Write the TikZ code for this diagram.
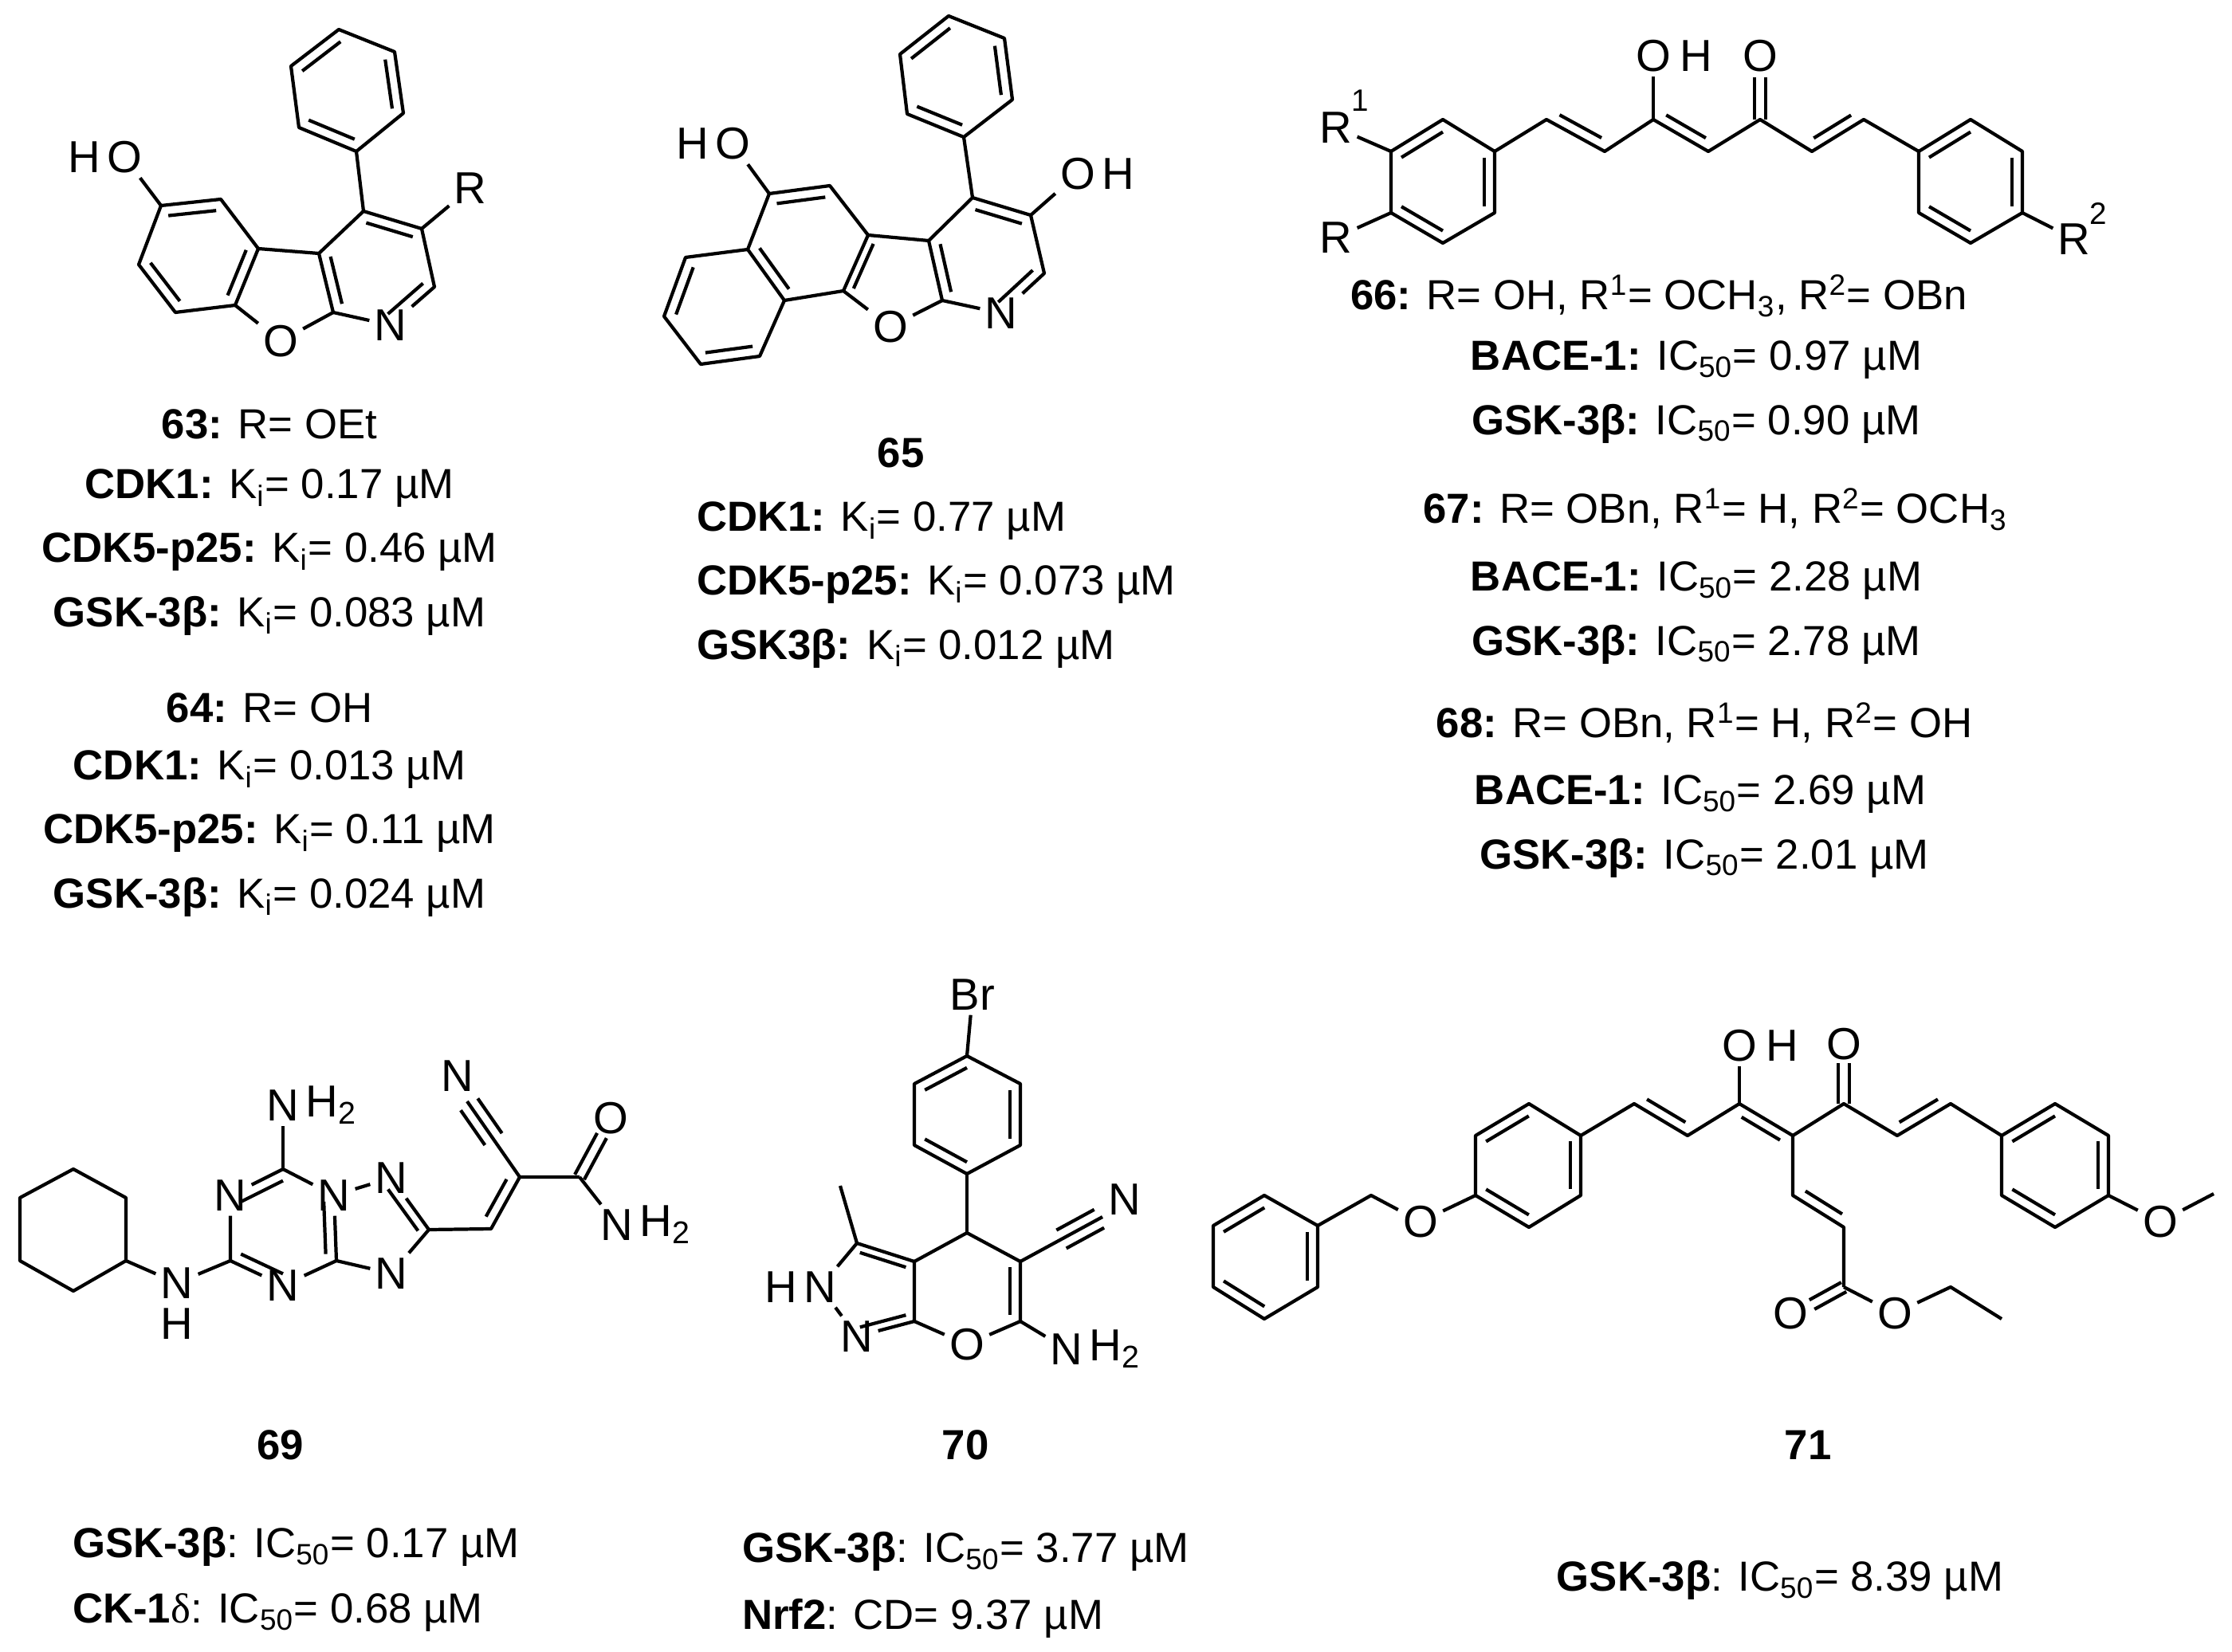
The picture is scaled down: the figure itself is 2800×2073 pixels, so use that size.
\documentclass[tikz,border=0pt]{standalone}
\usepackage{fontspec}
\setmainfont{Liberation Sans}
\newfontfamily\serifgr{Liberation Serif}
\usetikzlibrary{calc}
\newcommand\atomfont{\fontsize{16}{18}\selectfont}
\newcommand\supfont{\fontsize{11}{12}\selectfont}
\newcommand\capfont{\fontsize{15}{17}\selectfont}
\newcommand\Ki{K\textsubscript{i}}
\newcommand\ICf{IC\textsubscript{50}}
\newcommand\rdb[3]{\draw ($(#3)!0.8!(#1)$) -- ($(#3)!0.8!(#2)$);}
\newcommand\dbl[2]{\path ($(#1)!0.14!(#2)$) coordinate (dA) ($(#2)!0.14!(#1)$) coordinate (dB);
  \draw ($(dA)!3.7pt!90:(dB)$) -- ($(dB)!3.7pt!-90:(dA)$);}
\newcommand\dbr[2]{\path ($(#1)!0.14!(#2)$) coordinate (dA) ($(#2)!0.14!(#1)$) coordinate (dB);
  \draw ($(dA)!3.7pt!-90:(dB)$) -- ($(dB)!3.7pt!90:(dA)$);}
\newcommand\dbs[2]{\draw ($(#1)!1.9pt!90:(#2)$) -- ($(#2)!1.9pt!-90:(#1)$);
  \draw ($(#1)!1.9pt!-90:(#2)$) -- ($(#2)!1.9pt!90:(#1)$);}
\newcommand\tb[2]{\draw (#1) -- (#2);
  \path ($(#1)!0.5!(#2)$) coordinate (dA) ($(#2)!0.04!(#1)$) coordinate (dB);
  \draw ($(dA)!3.7pt!90:(dB)$) -- ($(dB)!3.7pt!-90:(dA)$);
  \draw ($(dA)!3.7pt!-90:(dB)$) -- ($(dB)!3.7pt!90:(dA)$);}
\begin{document}
\begin{tikzpicture}[x=0.01cm,y=-0.01cm,line width=1.2pt,line join=round,
  atom/.style={font=\atomfont,inner sep=1.2pt},
  hx/.style={font=\atomfont,inner sep=0pt},
  sup/.style={font=\supfont,inner sep=0pt},
  lbl/.style={font=\capfont,inner sep=0pt}]
\useasboundingbox (0,0) rectangle (2800,2073);
\fill[white] (0,0) rectangle (2800,2073);

% ================= 63 =================
\coordinate (Ap1) at (425,37); \coordinate (Ap2) at (495,65); \coordinate (Ap3) at (506,142);
\coordinate (Ap4) at (447,190); \coordinate (Ap5) at (375,160); \coordinate (Ap6) at (365,83);
\coordinate (Apc) at ($(Ap1)!0.5!(Ap4)$);
\coordinate (Ac4) at (456,265); \coordinate (Ac3) at (529,287); \coordinate (Ac2) at (545,360);
\node[atom] (AN) at (490,408) {N};
\coordinate (Ac9a) at (418,392); \coordinate (Ac9b) at (400,318);
\coordinate (Apy) at (473,338);
\node[atom] (AR) at (590,236) {R};
\coordinate (Ab1) at (324,312); \coordinate (Ab2) at (295,383);
\node[atom] (AO) at (352,428) {O};
\coordinate (Ab6) at (277,250); \coordinate (Ab5) at (202,258); \coordinate (Ab4) at (174,332);
\coordinate (Ab3) at (220,392); \coordinate (Abc) at (248,321);
\node[atom] (AOH) at (156,197) {O};
\node[hx,anchor=east] (AOHh) at (AOH.west) {H};
\draw (Ap1)--(Ap2)--(Ap3)--(Ap4)--(Ap5)--(Ap6)--cycle;
\rdb{Ap6}{Ap1}{Apc} \rdb{Ap2}{Ap3}{Apc} \rdb{Ap5}{Ap4}{Apc}
\draw (Ap4)--(Ac4)--(Ac3)--(Ac2)--(AN);
\draw (AN)--(Ac9a)--(Ac9b)--(Ac4);
\draw (Ac3)--(AR);
\rdb{Ac4}{Ac3}{Apy} \rdb{Ac2}{AN}{Apy} \rdb{Ac9a}{Ac9b}{Apy}
\draw (Ac9b)--(Ab1)--(Ab2)--(AO); \draw (AO)--(Ac9a);
\draw (Ab1)--(Ab6)--(Ab5)--(Ab4)--(Ab3)--(Ab2);
\rdb{Ab6}{Ab5}{Abc} \rdb{Ab4}{Ab3}{Abc} \rdb{Ab2}{Ab1}{Abc}
\draw (Ab5)--(AOH);

\node[lbl] (t63) at (338,532) {\textbf{63:} R= OEt};
\node[lbl] (t63a) at (338,613) {\textbf{CDK1:} \Ki= 0.17 µM};
\node[lbl] (t63b) at (338,693) {\textbf{CDK5-p25:} \Ki= 0.46 µM};
\node[lbl] (t63c) at (338,773) {\textbf{GSK-3β:} \Ki= 0.083 µM};
\node[lbl] (t64) at (338,888) {\textbf{64:} R= OH};
\node[lbl] (t64a) at (338,966) {\textbf{CDK1:} \Ki= 0.013 µM};
\node[lbl] (t64b) at (338,1046) {\textbf{CDK5-p25:} \Ki= 0.11 µM};
\node[lbl] (t64c) at (338,1126) {\textbf{GSK-3β:} \Ki= 0.024 µM};

% ================= 65 =================
\coordinate (Bq1) at (1190,20); \coordinate (Bq2) at (1260,48); \coordinate (Bq3) at (1270,125);
\coordinate (Bq4) at (1209,172); \coordinate (Bq5) at (1138,143); \coordinate (Bq6) at (1129,68);
\coordinate (Bpc) at ($(Bq1)!0.5!(Bq4)$);
\coordinate (Bc4) at (1220,248); \coordinate (Bc3) at (1293,270); \coordinate (Bc2) at (1310,343);
\node[atom] (BN) at (1256,393) {N};
\coordinate (Bc9a) at (1182,377); \coordinate (Bc9b) at (1165,302);
\coordinate (Bpy) at ($(Bc3)!0.5!(Bc9a)$);
\node[atom] (BOH) at (1352,218) {O};
\node[hx,anchor=west] (BOHh) at (BOH.east) {H};
\coordinate (BCa) at (1089,295); \coordinate (BCb) at (1058,365);
\node[atom] (BO) at (1117,410) {O};
\coordinate (BCc) at (984,377); \coordinate (BCd) at (938,313); \coordinate (BCe) at (965,243);
\coordinate (BCf) at (1041,233);
\node[atom] (BHO) at (919,180) {O};
\node[hx,anchor=east] (BHOh) at (BHO.west) {H};
\coordinate (Bg1) at (860,323); \coordinate (Bg2) at (833,397); \coordinate (Bg3) at (879,457);
\coordinate (Bg4) at (953,447);
\coordinate (Bmc) at ($(BCf)!0.5!(BCc)$); \coordinate (Bfc) at (1122,350);
\coordinate (Bgc) at ($(BCd)!0.5!(Bg3)$);
\draw (Bq1)--(Bq2)--(Bq3)--(Bq4)--(Bq5)--(Bq6)--cycle;
\rdb{Bq6}{Bq1}{Bpc} \rdb{Bq2}{Bq3}{Bpc} \rdb{Bq5}{Bq4}{Bpc}
\draw (Bq4)--(Bc4)--(Bc3)--(Bc2)--(BN);
\draw (BN)--(Bc9a)--(Bc9b)--(Bc4);
\draw (Bc3)--(BOH);
\rdb{Bc4}{Bc3}{Bpy} \rdb{Bc2}{BN}{Bpy} \rdb{Bc9a}{Bc9b}{Bpy}
\draw (Bc9b)--(BCa)--(BCb)--(BO); \draw (BO)--(Bc9a);
\rdb{BCa}{BCb}{Bfc}
\draw (BCa)--(BCf)--(BCe)--(BCd)--(BCc)--(BCb);
\rdb{BCe}{BCf}{Bmc} \rdb{BCc}{BCd}{Bmc}
\draw (BCe)--(BHO);
\draw (BCd)--(Bg1)--(Bg2)--(Bg3)--(Bg4)--(BCc);
\rdb{Bg1}{Bg2}{Bgc} \rdb{Bg3}{Bg4}{Bgc}

\node[lbl] (t65) at (1130,568) {\textbf{65}};
\node[lbl,anchor=west] (t65a) at (872,654) {\textbf{CDK1:} \Ki= 0.77 µM};
\node[lbl,anchor=west] (t65b) at (872,734) {\textbf{CDK5-p25:} \Ki= 0.073 µM};
\node[lbl,anchor=west] (t65c) at (872,814) {\textbf{GSK3β:} \Ki= 0.012 µM};

% ================= 66-68 =================
\coordinate (Cl1) at (1810,150); \coordinate (Cl2) at (1875,190); \coordinate (Cl3) at (1875,267);
\coordinate (Cl4) at (1810,305); \coordinate (Cl5) at (1745,267); \coordinate (Cl6) at (1745,190);
\coordinate (Clc) at (1810,228);
\node[atom] (CR1) at (1676,160) {R};
\node[sup] (CR1s) at (1706,126) {1};
\node[atom] (CR) at (1676,298) {R};
\coordinate (Ck1) at (1940,150); \coordinate (Ck2) at (2013,190); \coordinate (Ck3) at (2074,150);
\coordinate (Ck4) at (2143,190); \coordinate (Ck5) at (2208,150); \coordinate (Ck6) at (2273,190);
\coordinate (Ck7) at (2338,150);
\node[atom] (COH) at (2074,70) {O};
\node[hx,anchor=west] (COHh) at ([xshift=1pt]COH.east) {H};
\node[atom] (CO) at (2208,70) {O};
\coordinate (Coe) at (2208,97);
\coordinate (Cr1) at (2472,150); \coordinate (Cr2) at (2537,190); \coordinate (Cr3) at (2537,267);
\coordinate (Cr4) at (2472,305); \coordinate (Cr5) at (2407,267); \coordinate (Cr6) at (2407,190);
\coordinate (Crc) at (2472,228);
\node[atom] (CR2) at (2602,300) {R};
\node[sup] (CR2s) at (2632,268) {2};
\draw (Cl1)--(Cl2)--(Cl3)--(Cl4)--(Cl5)--(Cl6)--cycle;
\rdb{Cl6}{Cl1}{Clc} \rdb{Cl2}{Cl3}{Clc} \rdb{Cl5}{Cl4}{Clc}
\draw (Cl6)--(CR1); \draw (Cl5)--(CR);
\draw (Cl2)--(Ck1)--(Ck2)--(Ck3)--(Ck4)--(Ck5)--(Ck6)--(Ck7)--(Cr6);
\dbl{Ck1}{Ck2} \dbl{Ck3}{Ck4} \dbl{Ck6}{Ck7}
\draw (Ck3)--(COH);
\dbs{Ck5}{Coe}
\draw (Cr1)--(Cr2)--(Cr3)--(Cr4)--(Cr5)--(Cr6)--cycle;
\rdb{Cr6}{Cr1}{Crc} \rdb{Cr2}{Cr3}{Crc} \rdb{Cr5}{Cr4}{Crc}
\draw (Cr3)--(CR2);

\node[lbl] (t66) at (2081,371) {\textbf{66:} R= OH, R\textsuperscript{1}= OCH\textsubscript{3}, R\textsuperscript{2}= OBn};
\node[lbl] (t66a) at (2128,452) {\textbf{BACE-1:} \ICf= 0.97 µM};
\node[lbl] (t66b) at (2128,532) {\textbf{GSK-3β:} \ICf= 0.90 µM};
\node[lbl] (t67) at (2152,639) {\textbf{67:} R= OBn, R\textsuperscript{1}= H, R\textsuperscript{2}= OCH\textsubscript{3}};
\node[lbl] (t67a) at (2128,729) {\textbf{BACE-1:} \ICf= 2.28 µM};
\node[lbl] (t67b) at (2128,809) {\textbf{GSK-3β:} \ICf= 2.78 µM};
\node[lbl] (t68) at (2138,907) {\textbf{68:} R= OBn, R\textsuperscript{1}= H, R\textsuperscript{2}= OH};
\node[lbl] (t68a) at (2133,997) {\textbf{BACE-1:} \ICf= 2.69 µM};
\node[lbl] (t68b) at (2138,1077) {\textbf{GSK-3β:} \ICf= 2.01 µM};

% ================= 69 =================
\coordinate (Dy1) at (92,1467); \coordinate (Dy2) at (158,1503); \coordinate (Dy3) at (158,1582);
\coordinate (Dy4) at (92,1620); \coordinate (Dy5) at (25,1582); \coordinate (Dy6) at (25,1503);
\node[atom] (DNH) at (222,1610) {N};
\node[hx,anchor=north] (DNHh) at ([yshift=-1pt]DNH.south) {H};
\node[atom] (DnA) at (289,1500) {N};
\node[atom] (DnB) at (419,1500) {N};
\node[atom] (DnC) at (355,1613) {N};
\node[atom] (DnD) at (491,1478) {N};
\node[atom] (DnE) at (491,1598) {N};
\coordinate (Dc1) at (289,1582); \coordinate (Dc2) at (355,1467); \coordinate (Dc3) at (422,1582);
\coordinate (Dc5) at (538,1543); \coordinate (Dc6) at (616,1542); \coordinate (Dc7) at (652,1477);
\coordinate (DcnE) at (586,1382);
\node[atom] (DnN) at (574,1350) {N};
\coordinate (Dc8) at (727,1477); \coordinate (DoE) at (755,1425);
\node[atom] (DO) at (766,1403) {O};
\node[atom] (DN2) at (774,1537) {N};
\node[hx,anchor=west] (DN2h) at (DN2.east) {H\textsubscript{2}};
\node[atom] (DNt) at (355,1387) {N};
\node[hx,anchor=west] (DNth) at (DNt.east) {H\textsubscript{2}};
\coordinate (Dtz) at (355,1540); \coordinate (Dtr) at (470,1550);
\draw (Dy1)--(Dy2)--(Dy3)--(Dy4)--(Dy5)--(Dy6)--cycle;
\draw (Dy3)--(DNH); \draw (DNH)--(Dc1)--(DnA); \draw (DnA)--(Dc2)--(DnB);
\draw (DnB)--(Dc3)--(DnC); \draw (DnC)--(Dc1);
\draw (Dc2)--(DNt);
\rdb{DnA}{Dc2}{Dtz} \rdb{DnB}{Dc3}{Dtz} \rdb{DnC}{Dc1}{Dtz}
\draw (DnB)--(DnD); \draw (DnD)--(Dc5)--(DnE); \draw (DnE)--(Dc3);
\rdb{DnD}{Dc5}{Dtr}
\draw (Dc5)--(Dc6)--(Dc7)--(Dc8);
\dbl{Dc6}{Dc7}
\tb{Dc7}{DcnE}
\dbs{Dc8}{DoE}
\draw (Dc8)--(DN2);

\node[lbl] (t69) at (352,1813) {\textbf{69}};
\node[lbl,anchor=west] (t69a) at (89,1941) {\textbf{GSK-3β}: \ICf= 0.17 µM};
\node[lbl,anchor=west] (t69b) at (89,2024) {\textbf{CK-1}{\serifgr δ}: \ICf= 0.68 µM};

% ================= 70 =================
\node[atom] (EBr) at (1220,1248) {Br};
\coordinate (Er1) at (1213,1325); \coordinate (Er2) at (1280,1360); \coordinate (Er3) at (1280,1437);
\coordinate (Er4) at (1213,1473); \coordinate (Er5) at (1147,1437); \coordinate (Er6) at (1147,1360);
\coordinate (Erc) at (1213,1399);
\coordinate (Ec4) at (1213,1547); \coordinate (Ec4a) at (1147,1583); \coordinate (Ec5) at (1280,1583);
\coordinate (Ec6) at (1280,1658); \coordinate (Ec7a) at (1147,1658); \coordinate (Ec3) at (1075,1560);
\coordinate (Eme) at (1054,1488);
\node[atom] (EO) at (1213,1687) {O};
\node[atom] (EN1) at (1029,1615) {N};
\node[hx,anchor=east] (EN1h) at (EN1.west) {H};
\node[atom] (EN2) at (1075,1677) {N};
\coordinate (EcnE) at (1383,1527);
\node[atom] (EN3) at (1411,1505) {N};
\node[atom] (EN4) at (1338,1693) {N};
\node[hx,anchor=west] (EN4h) at (EN4.east) {H\textsubscript{2}};
\coordinate (Epc) at (1213,1620); \coordinate (Ezc) at (1094,1619);
\draw (EBr)--(Er1);
\draw (Er1)--(Er2)--(Er3)--(Er4)--(Er5)--(Er6)--cycle;
\rdb{Er6}{Er1}{Erc} \rdb{Er2}{Er3}{Erc} \rdb{Er5}{Er4}{Erc}
\draw (Er4)--(Ec4); \draw (Ec4a)--(Ec4)--(Ec5)--(Ec6)--(EO); \draw (EO)--(Ec7a)--(Ec4a)--(Ec3)--(EN1);
\draw (EN1)--(EN2); \draw (EN2)--(Ec7a);
\draw (Ec3)--(Eme);
\rdb{Ec5}{Ec6}{Epc} \rdb{Ec4a}{Ec3}{Ezc} \rdb{EN2}{Ec7a}{Ezc}
\tb{Ec5}{EcnE}
\draw (Ec6)--(EN4);

\node[lbl] (t70) at (1211,1813) {\textbf{70}};
\node[lbl,anchor=west] (t70a) at (929,1947) {\textbf{GSK-3β}: \ICf= 3.77 µM};
\node[lbl,anchor=west] (t70b) at (929,2031) {\textbf{Nrf2}: CD= 9.37 µM};

% ================= 71 =================
\coordinate (Fs1) at (1586,1500); \coordinate (Fs2) at (1653,1538); \coordinate (Fs3) at (1653,1615);
\coordinate (Fs4) at (1586,1655); \coordinate (Fs5) at (1522,1615); \coordinate (Fs6) at (1522,1538);
\coordinate (Fsc) at (1587,1577);
\coordinate (Fch) at (1720,1500);
\node[atom] (FO1) at (1782,1533) {O};
\coordinate (Ft1) at (1851,1500); \coordinate (Ft2) at (1851,1425); \coordinate (Ft3) at (1918,1385);
\coordinate (Ft4) at (1983,1425); \coordinate (Ft5) at (1983,1500); \coordinate (Ft6) at (1918,1540);
\coordinate (Ftc) at (1917,1462);
\coordinate (Fk1) at (2050,1385); \coordinate (Fk2) at (2117,1425); \coordinate (Fk3) at (2182,1385);
\coordinate (Fk4) at (2249,1425); \coordinate (Fk5) at (2313,1385); \coordinate (Fk6) at (2380,1425);
\coordinate (Fk7) at (2447,1385);
\node[atom] (FOH) at (2182,1312) {O};
\node[hx,anchor=west] (FOHh) at ([xshift=1pt]FOH.east) {H};
\node[atom] (FO) at (2313,1310) {O};
\coordinate (Foe) at (2313,1334);
\coordinate (Fu1) at (2511,1425); \coordinate (Fu2) at (2578,1385); \coordinate (Fu3) at (2645,1425);
\coordinate (Fu4) at (2645,1500); \coordinate (Fu5) at (2578,1540); \coordinate (Fu6) at (2511,1500);
\coordinate (Fuc) at (2578,1462);
\node[atom] (FOM) at (2710,1533) {O};
\coordinate (Fme) at (2777,1498);
\coordinate (Fm1) at (2249,1500); \coordinate (Fm2) at (2313,1540); \coordinate (Fm3) at (2313,1615);
\coordinate (Foe2) at (2273,1637);
\node[atom] (FO2) at (2246,1648) {O};
\node[atom] (FO3) at (2377,1648) {O};
\coordinate (Fe1) at (2447,1615); \coordinate (Fe2) at (2511,1655);
\draw (Fs1)--(Fs2)--(Fs3)--(Fs4)--(Fs5)--(Fs6)--cycle;
\rdb{Fs6}{Fs1}{Fsc} \rdb{Fs2}{Fs3}{Fsc} \rdb{Fs5}{Fs4}{Fsc}
\draw (Fs2)--(Fch)--(FO1); \draw (FO1)--(Ft1);
\draw (Ft1)--(Ft2)--(Ft3)--(Ft4)--(Ft5)--(Ft6)--cycle;
\rdb{Ft2}{Ft3}{Ftc} \rdb{Ft4}{Ft5}{Ftc} \rdb{Ft1}{Ft6}{Ftc}
\draw (Ft4)--(Fk1)--(Fk2)--(Fk3)--(Fk4)--(Fk5)--(Fk6)--(Fk7)--(Fu1);
\dbl{Fk1}{Fk2} \dbr{Fk3}{Fk4} \dbl{Fk6}{Fk7}
\draw (Fk3)--(FOH);
\dbs{Fk5}{Foe}
\draw (Fu1)--(Fu2)--(Fu3)--(Fu4)--(Fu5)--(Fu6)--cycle;
\rdb{Fu1}{Fu2}{Fuc} \rdb{Fu3}{Fu4}{Fuc} \rdb{Fu6}{Fu5}{Fuc}
\draw (Fu4)--(FOM); \draw (FOM)--(Fme);
\draw (Fk4)--(Fm1)--(Fm2)--(Fm3);
\dbl{Fm1}{Fm2}
\dbs{Fm3}{Foe2}
\draw (Fm3)--(FO3); \draw (FO3)--(Fe1)--(Fe2);

\node[lbl] (t71) at (2268,1813) {\textbf{71}};
\node[lbl] (t71a) at (2233,1983) {\textbf{GSK-3β}: \ICf= 8.39 µM};
\end{tikzpicture}
\end{document}
